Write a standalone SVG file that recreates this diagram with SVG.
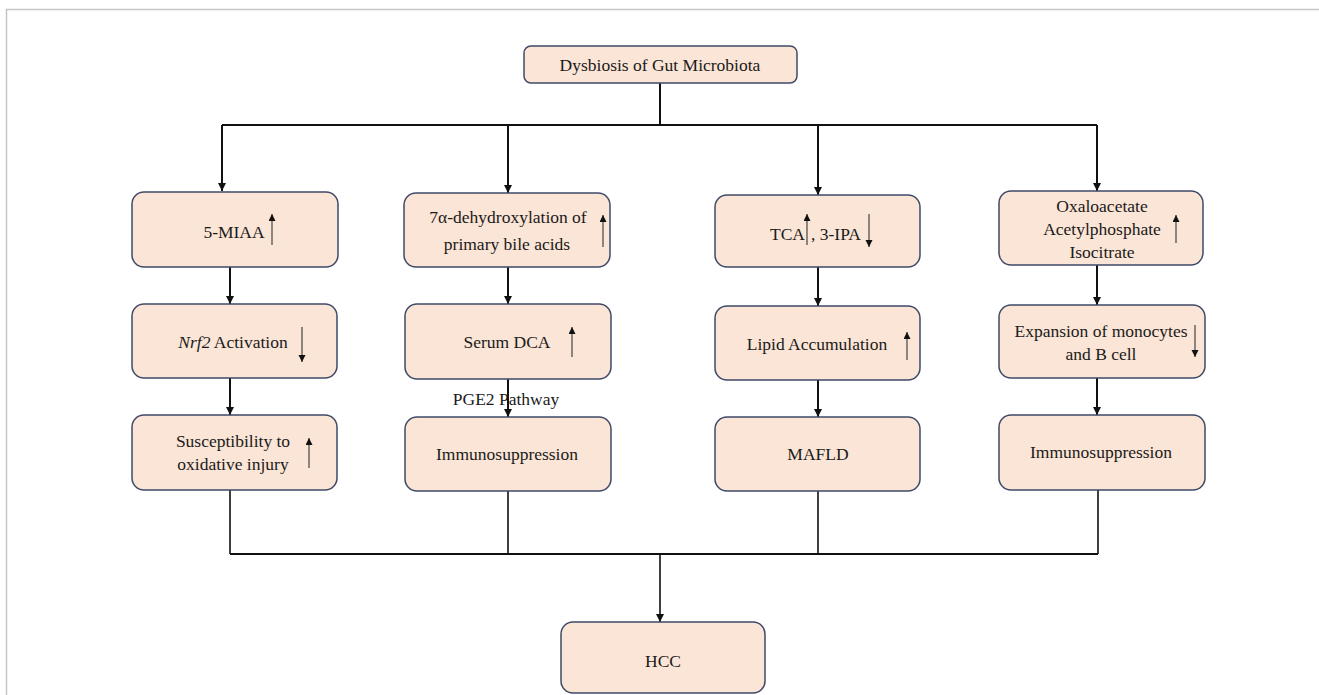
<svg xmlns="http://www.w3.org/2000/svg" width="1319" height="695" viewBox="0 0 1319 695">
<defs>
<style>
.box{fill:#fbe5d6;stroke:#3f4a68;stroke-width:1.5}
.t{font-family:"Liberation Serif","Times New Roman",serif;font-size:17.5px;fill:#1a1a1a;text-anchor:middle}
.ts{font-family:"Liberation Serif","Times New Roman",serif;font-size:17.5px;fill:#1a1a1a}
.c{stroke:#111;stroke-width:2;fill:none}
.c2{stroke:#111;stroke-width:1.6;fill:none}
.ind{stroke:#444;stroke-width:1.2;fill:none}
.frame{stroke:#c6c6c6;stroke-width:1.5;fill:none}
</style>
<marker id="ah" markerUnits="userSpaceOnUse" markerWidth="10" markerHeight="10" refX="8" refY="4" orient="auto">
<path d="M0,0 L8,4 L0,8 Z" fill="#111"/>
</marker>
<marker id="sm" markerUnits="userSpaceOnUse" markerWidth="9" markerHeight="9" refX="7" refY="3.5" orient="auto">
<path d="M0,0 L7,3.5 L0,7 Z" fill="#111"/>
</marker>
</defs>
<rect width="1319" height="695" fill="#ffffff"/>
<path class="frame" d="M6.5,695 V9.5 H1319"/>

<g id="connectors">
<path class="c" d="M660,83 V125"/>
<path class="c" d="M222,125 H1097"/>
<path class="c" d="M222,125 V191" marker-end="url(#ah)"/>
<path class="c" d="M508,125 V193" marker-end="url(#ah)"/>
<path class="c" d="M818,125 V195" marker-end="url(#ah)"/>
<path class="c" d="M1097,125 V191" marker-end="url(#ah)"/>
<path class="c" d="M230,267 V304" marker-end="url(#ah)"/>
<path class="c" d="M230,378 V415" marker-end="url(#ah)"/>
<path class="c" d="M508,267 V304" marker-end="url(#ah)"/>
<path class="c" d="M508,379 V417" marker-end="url(#ah)"/>
<path class="c" d="M818,267 V306" marker-end="url(#ah)"/>
<path class="c" d="M818,380 V417" marker-end="url(#ah)"/>
<path class="c" d="M1097,265 V305" marker-end="url(#ah)"/>
<path class="c" d="M1097,378 V415" marker-end="url(#ah)"/>
<path class="c2" d="M230,490 V554"/>
<path class="c2" d="M508,491 V554"/>
<path class="c2" d="M818,491 V554"/>
<path class="c2" d="M1098,490 V554"/>
<path class="c" d="M230,554 H1098"/>
<path class="c2" d="M660,554 V622" marker-end="url(#ah)"/>
<text class="t" x="506" y="405">PGE2 Pathway</text>
</g>

<g id="n-dysbiosis">
<rect class="box" x="524" y="46" width="273" height="37" rx="7"/>
<text class="t" x="660" y="70.5">Dysbiosis of Gut Microbiota</text>
</g>

<g id="n-5miaa">
<rect class="box" x="132" y="192" width="206" height="75" rx="12"/>
<text class="t" x="234" y="238">5-MIAA</text>
<path class="ind" d="M272,245 V214" marker-end="url(#sm)"/>
</g>

<g id="n-7a">
<rect class="box" x="404" y="193" width="206" height="74" rx="12"/>
<text class="t" x="508" y="223">7α-dehydroxylation of</text>
<text class="t" x="507" y="250">primary bile acids</text>
<path class="ind" d="M603,247 V215" marker-end="url(#sm)"/>
</g>

<g id="n-tca">
<rect class="box" x="715" y="195" width="205" height="72" rx="12"/>
<text class="ts" x="770" y="240">TCA</text>
<path class="ind" d="M807,245 V214" marker-end="url(#sm)"/>
<text class="ts" x="811" y="240">, 3-IPA</text>
<path class="ind" d="M869,214 V247" marker-end="url(#sm)"/>
</g>

<g id="n-oxalo">
<rect class="box" x="999" y="191" width="204" height="74" rx="12"/>
<text class="t" x="1102" y="212">Oxaloacetate</text>
<text class="t" x="1102" y="235">Acetylphosphate</text>
<text class="t" x="1102" y="258">Isocitrate</text>
<path class="ind" d="M1176,243 V215" marker-end="url(#sm)"/>
</g>

<g id="n-nrf2">
<rect class="box" x="132" y="304" width="205" height="74" rx="12"/>
<text class="t" x="233" y="348"><tspan font-style="italic">Nrf2</tspan> Activation</text>
<path class="ind" d="M302,327 V362" marker-end="url(#sm)"/>
</g>

<g id="n-dca">
<rect class="box" x="405" y="304" width="206" height="75" rx="12"/>
<text class="t" x="507" y="348">Serum DCA</text>
<path class="ind" d="M572,357 V327" marker-end="url(#sm)"/>
</g>

<g id="n-lipid">
<rect class="box" x="715" y="306" width="205" height="74" rx="12"/>
<text class="t" x="817" y="350">Lipid Accumulation</text>
<path class="ind" d="M907,360 V332" marker-end="url(#sm)"/>
</g>

<g id="n-expansion">
<rect class="box" x="999" y="305" width="206" height="73" rx="12"/>
<text class="t" x="1101" y="337">Expansion of monocytes</text>
<text class="t" x="1101" y="360">and B cell</text>
<path class="ind" d="M1195,325 V357" marker-end="url(#sm)"/>
</g>

<g id="n-suscept">
<rect class="box" x="132" y="415" width="205" height="75" rx="12"/>
<text class="t" x="233" y="447">Susceptibility to</text>
<text class="t" x="233" y="470">oxidative injury</text>
<path class="ind" d="M309,468 V438" marker-end="url(#sm)"/>
</g>

<g id="n-immuno1">
<rect class="box" x="405" y="417" width="206" height="74" rx="12"/>
<text class="t" x="507" y="460">Immunosuppression</text>
</g>

<g id="n-mafld">
<rect class="box" x="715" y="417" width="205" height="74" rx="12"/>
<text class="t" x="818" y="460">MAFLD</text>
</g>

<g id="n-immuno2">
<rect class="box" x="999" y="415" width="206" height="75" rx="12"/>
<text class="t" x="1101" y="458">Immunosuppression</text>
</g>

<g id="n-hcc">
<rect class="box" x="561" y="622" width="204" height="71" rx="12"/>
<text class="t" x="663" y="667">HCC</text>
</g>
</svg>
